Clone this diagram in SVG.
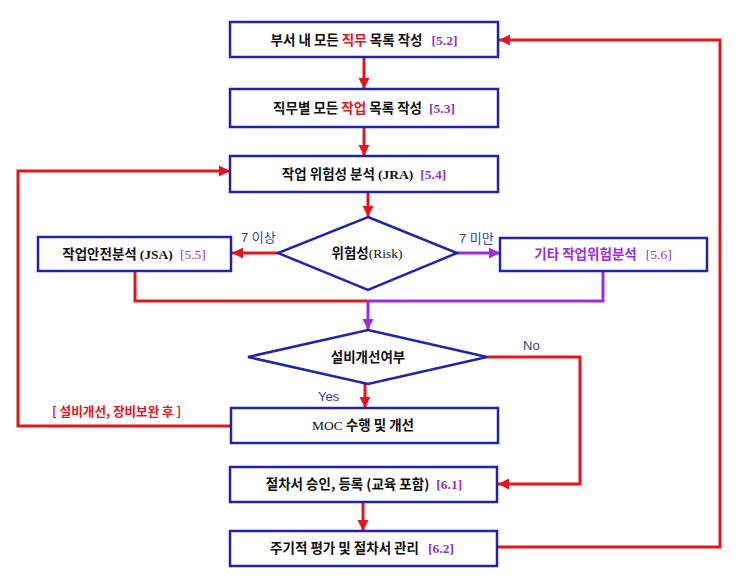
<svg xmlns="http://www.w3.org/2000/svg" width="743" height="586" viewBox="0 0 743 586">
<style>
.box{fill:#fff;stroke:#2323a8;stroke-width:2.5}
.dia{fill:#fff;stroke:#2323a8;stroke-width:2.5;stroke-linejoin:miter}
.red{fill:none;stroke:#e3161d;stroke-width:3}
.pur{fill:none;stroke:#9b2be0;stroke-width:3}
.t{font-family:"Noto Sans CJK KR","Noto Sans",sans-serif;font-weight:bold;font-size:13.5px;fill:#111;text-anchor:middle}
.ser{font-family:"Liberation Serif",serif;}
.ref{font-family:"Liberation Serif",serif;font-weight:bold;fill:#8f33cc;font-size:13.5px}
.hr{fill:#e3161d}
.hp{fill:#9b2be0}
.lbl{font-family:"Liberation Sans","Noto Sans CJK KR",sans-serif;font-size:13px;fill:#3a3a9a}
</style>
<defs>
<marker id="ar" markerUnits="userSpaceOnUse" markerWidth="12" markerHeight="12" refX="11" refY="6" orient="auto">
<path d="M0,0.5 L11,6 L0,11.5 Z" fill="#e3161d"/>
</marker>
<marker id="ap" markerUnits="userSpaceOnUse" markerWidth="12" markerHeight="12" refX="11" refY="6" orient="auto">
<path d="M0,0.5 L11,6 L0,11.5 Z" fill="#9b2be0"/>
</marker>
</defs>
<g id="connectors">
<line class="red" x1="364" y1="57" x2="364" y2="89" marker-end="url(#ar)"/>
<line class="red" x1="364" y1="127" x2="364" y2="156" marker-end="url(#ar)"/>
<line class="red" x1="368" y1="192" x2="368" y2="217" marker-end="url(#ar)"/>
<line class="red" x1="278" y1="253" x2="232" y2="253" marker-end="url(#ar)"/>
<line class="pur" x1="457" y1="253" x2="500" y2="253" marker-end="url(#ap)"/>
<path class="red" d="M135,271 V301 H368"/>
<path class="pur" d="M603,271 V301 H368"/>
<line class="pur" x1="368" y1="300" x2="368" y2="330" marker-end="url(#ap)"/>
<line class="red" x1="365" y1="384" x2="365" y2="408" marker-end="url(#ar)"/>
<path class="red" d="M231,426 H18 V171 H230" marker-end="url(#ar)"/>
<path class="red" d="M487,357 H580 V484 H498" marker-end="url(#ar)"/>
<line class="red" x1="363" y1="502" x2="363" y2="531" marker-end="url(#ar)"/>
<path class="red" d="M497,547 H720 V40 H499" marker-end="url(#ar)"/>
<text class="lbl" x="241" y="242">7 이상</text>
<text class="lbl" x="459" y="243">7 미만</text>
<text class="lbl" x="523" y="350">No</text>
<text class="lbl" x="318" y="401">Yes</text>
<text x="52" y="416" style="font-family:'Noto Sans CJK KR',sans-serif;font-weight:bold;font-size:12.6px;fill:#e3161d">[ 설비개선, 장비보완 후 ]</text>
</g>
<g id="n1">
<rect class="box" x="230" y="22" width="268" height="35"/>
<text class="t" x="364" y="44.5">부서 내 모든 <tspan class="hr">직무</tspan> 목록 작성 <tspan class="ref" dx="6">[5.2]</tspan></text>
</g>
<g id="n2">
<rect class="box" x="230" y="89" width="268" height="38"/>
<text class="t" x="364" y="113">직무별 모든 <tspan class="hr">작업</tspan> 목록 작성 <tspan class="ref" dx="4">[5.3]</tspan></text>
</g>
<g id="n3">
<rect class="box" x="230" y="156" width="268" height="36"/>
<text class="t" x="364" y="179">작업 위험성 분석 <tspan class="ser">(JRA)</tspan> <tspan class="ref" dx="4">[5.4]</tspan></text>
</g>
<g id="d1">
<polygon class="dia" points="368,217 457,253 368,290 278,253"/>
<text class="t" x="367" y="258">위험성<tspan class="ser" style="font-weight:normal">(Risk)</tspan></text>
</g>
<g id="n4">
<rect class="box" x="38" y="237" width="193" height="34"/>
<text class="t" x="134" y="259">작업안전분석 <tspan class="ser">(JSA)</tspan> <tspan class="ref" style="font-weight:normal" dx="4">[5.5]</tspan></text>
</g>
<g id="n5">
<rect class="box" x="500" y="238" width="207" height="33"/>
<text class="t" x="603" y="259"><tspan class="hp">기타 작업위험분석</tspan> <tspan class="ref" style="font-weight:normal" dx="6">[5.6]</tspan></text>
</g>
<g id="d2">
<polygon class="dia" points="368,330 487,357 368,384 248,357"/>
<text class="t" x="368" y="362">설비개선여부</text>
</g>
<g id="n6">
<rect class="box" x="231" y="408" width="267" height="35"/>
<text class="t" x="363" y="430"><tspan class="ser" style="font-weight:normal">MOC</tspan> 수행 및 개선</text>
</g>
<g id="n7">
<rect class="box" x="230" y="467" width="267" height="35"/>
<text class="t" x="364" y="489">절차서 승인, 등록 (교육 포함) <tspan class="ref" dx="4">[6.1]</tspan></text>
</g>
<g id="n8">
<rect class="box" x="230" y="531" width="267" height="35"/>
<text class="t" x="362" y="553">주기적 평가 및 절차서 관리 <tspan class="ref" dx="6">[6.2]</tspan></text>
</g>
</svg>
